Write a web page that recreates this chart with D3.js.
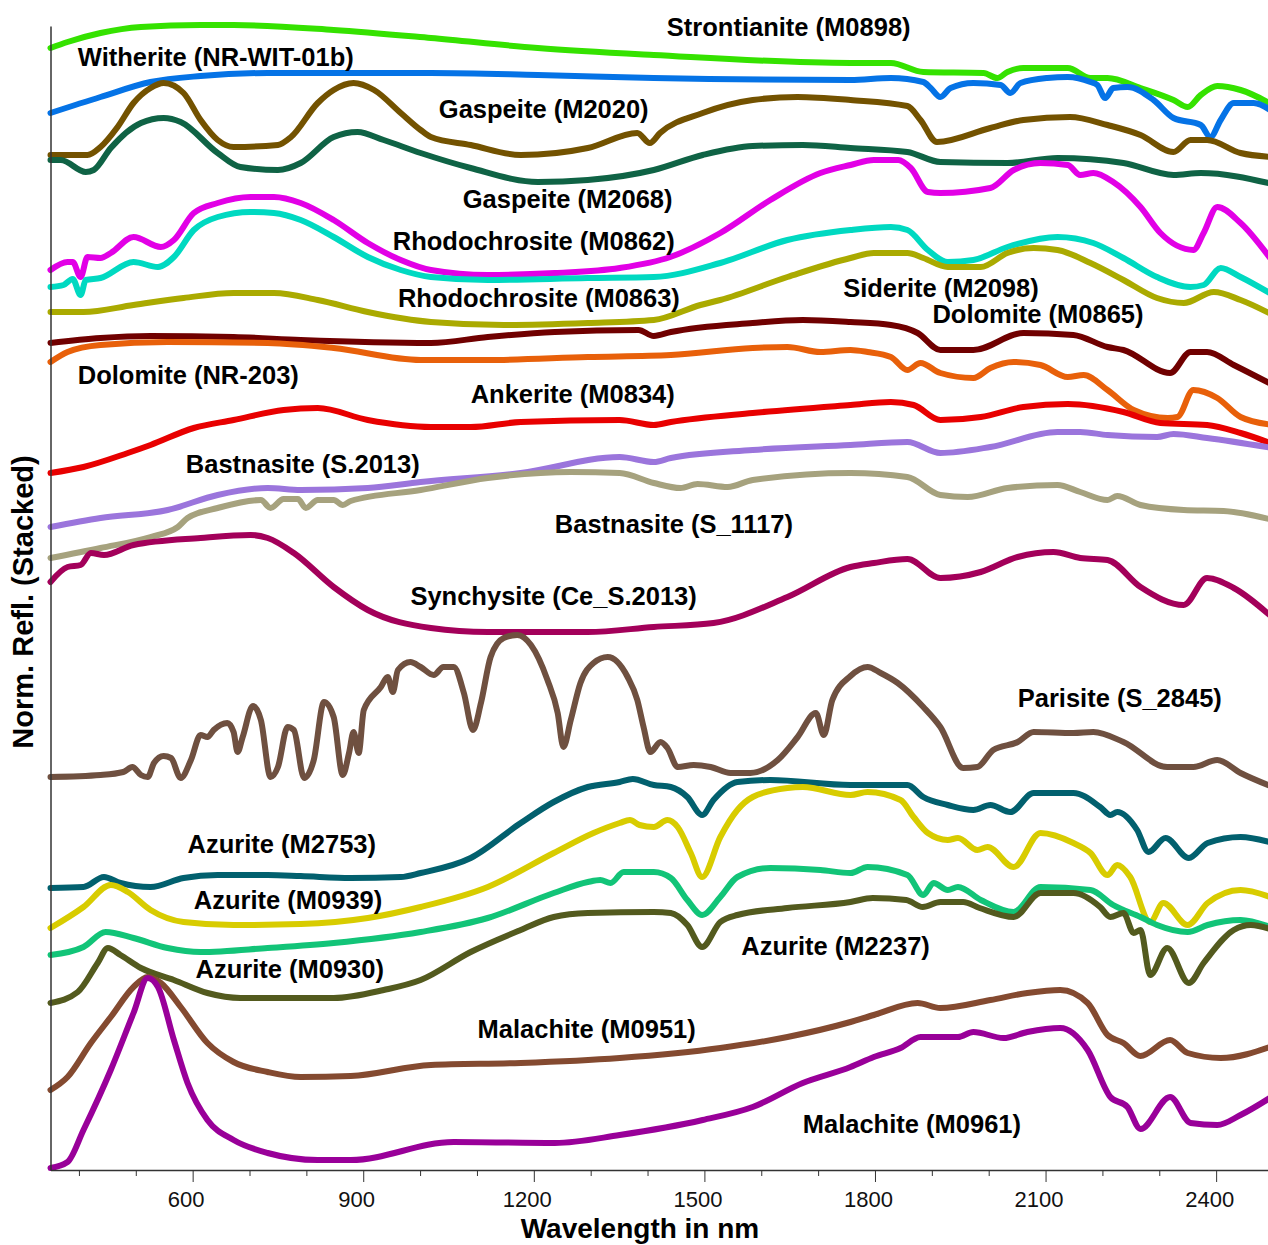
<!DOCTYPE html>
<html>
<head>
<meta charset="utf-8">
<script src="https://cdn.jsdelivr.net/npm/d3@7"></script>
<style>
  body { margin: 0; background: #fff; }
  svg text { font-family: "Liberation Sans", Arial, sans-serif; }
</style>
</head>
<body>
<div id="svg-container"></div>
<script>
// Spectra as [wavelength (nm), normalised reflectance, stacked]
const strontianite_M0898 = [[350,112.2],[380,112.8],[438,113.7],[509,114.3],[614,114.5],[672,114.5],[848,114],[1019,113.2],[1207,112.2],[1411,111.5],[1757,110.7],[1828,110.7],[1885,109.8],[1991,109.7],[2015,109.2],[2033,109.8],[2061,110.2],[2139,110.2],[2179,109.2],[2209,109.2],[2267,108.2],[2325,107],[2350,106.3],[2373,107.5],[2402,108.4],[2443,108],[2500,106.5]];
const witherite_NRWIT01b = [[350,105.7],[438,107.3],[526,108.8],[614,109.4],[732,109.7],[1019,109.7],[1207,109.5],[1411,109.2],[1757,109],[1828,109.2],[1885,108.8],[1898,108.2],[1915,107.3],[1933,108.2],[1973,108.7],[2021,108.5],[2038,107.7],[2056,108.7],[2103,109.2],[2139,109.3],[2179,108.8],[2191,108.5],[2205,107.2],[2219,108.2],[2244,108.3],[2290,107],[2325,105.2],[2373,104.5],[2390,103.3],[2408,105],[2431,106.7],[2466,106.7],[2500,105.8]];
const gaspeite_M2020 = [[350,101.5],[415,101.5],[438,102.3],[468,104.3],[496,106.7],[526,108.2],[549,108.7],[584,107.7],[614,105],[644,103],[672,102.3],[750,102.5],[773,103.3],[820,106.7],[848,108],[883,108.7],[919,108],[966,105.7],[1001,104],[1019,103.3],[1089,102.5],[1177,101.5],[1295,102.2],[1382,103.7],[1404,102.7],[1422,103.7],[1497,105.7],[1585,107],[1664,107.3],[1757,107],[1857,106.4],[1880,105],[1909,102.8],[2003,104.2],[2061,105],[2143,105.3],[2209,104.5],[2267,103.5],[2325,101.8],[2355,103],[2384,103],[2443,101.7],[2500,101.3]];
const gaspeite_M2068 = [[350,101],[368,101],[412,99.8],[426,100],[456,102.2],[509,104.7],[549,105.2],[579,104.8],[644,101.7],[684,100.3],[750,100],[790,100.7],[848,103.3],[890,103.8],[936,103],[1001,101.7],[1089,100.2],[1207,98.8],[1295,99],[1411,100],[1497,101.5],[1585,102.4],[1673,102.5],[1757,102.2],[1857,101.8],[1915,100.8],[2033,100.7],[2121,101.2],[2237,100.7],[2325,99.5],[2373,99.7],[2500,98.6]];
const rhodochrosite_M0862 = [[350,90],[380,90.8],[389,90.8],[403,89.3],[415,91.3],[438,91.2],[456,91.7],[496,93.3],[544,92.3],[567,93],[602,95.7],[644,96.7],[702,97.3],[743,97.3],[790,96.7],[848,95],[908,92.7],[966,91],[1019,90],[1119,89.5],[1237,89.7],[1351,90.2],[1440,91.3],[1528,93.7],[1616,97],[1704,99.7],[1757,100.5],[1798,101],[1841,101],[1863,100.2],[1893,97.8],[1915,97.7],[2003,98.2],[2044,100],[2091,100.7],[2139,100.5],[2161,99.5],[2184,99.7],[2219,98.8],[2267,96.3],[2302,93.7],[2360,92],[2378,93.7],[2402,96.3],[2443,94.7],[2500,90.8]];
const rhodochrosite_M0863 = [[350,88.3],[373,88.5],[389,89.1],[403,87.5],[412,89],[438,89.2],[496,90.8],[539,90.3],[567,91.3],[602,94],[644,95.3],[702,95.8],[743,95.7],[790,95],[848,93.3],[908,91.3],[966,90],[1019,89.3],[1119,89],[1295,89.2],[1411,89.3],[1528,90.7],[1646,93],[1757,94],[1828,94.3],[1857,94],[1893,92],[1928,90.8],[1973,91],[2033,92.3],[2121,93.3],[2184,92.7],[2237,91.2],[2296,89.3],[2355,88.3],[2378,88.5],[2408,90.2],[2443,89.3],[2500,87.5]];
const siderite_M2098 = [[350,85.8],[408,85.8],[496,86.5],[584,87.2],[672,87.7],[743,87.7],[820,87],[908,85.8],[1019,84.8],[1147,84.5],[1295,84.7],[1411,85],[1493,86.5],[1528,87],[1646,89.3],[1757,91.2],[1798,91.7],[1857,91.7],[1885,91.2],[1928,90.3],[1986,90.3],[2033,91.7],[2079,92.2],[2121,92],[2179,90.7],[2237,89],[2296,87.2],[2343,86.7],[2396,87.8],[2443,87],[2500,85.5]];
const dolomite_M0865 = [[350,82.7],[438,83.2],[526,83.4],[672,83.3],[790,83],[1019,82.7],[1119,83.3],[1237,83.8],[1384,84],[1411,83.4],[1441,83.8],[1585,84.7],[1673,85],[1757,84.8],[1828,84.5],[1875,83.7],[1915,82],[1973,82],[2061,83.7],[2149,83.5],[2209,82.3],[2237,82],[2319,79.7],[2355,81.8],[2384,81.8],[2431,80.5],[2500,78.5]];
const dolomite_NR203 = [[350,80.8],[380,81.8],[438,82.5],[556,82.8],[732,82.7],[848,82.2],[1001,81],[1119,81],[1295,81.3],[1441,81.5],[1585,82.2],[1646,82.3],[1704,81.8],[1757,82],[1787,81.8],[1828,81.3],[1857,80],[1880,80.7],[1915,79.7],[1973,79.2],[2003,80.2],[2044,80.8],[2091,80.5],[2139,79.3],[2167,79.5],[2209,78],[2255,76],[2315,75.2],[2332,75.3],[2360,78],[2402,77.2],[2443,75.3],[2500,74.5]];
const ankerite_M0834 = [[350,69.7],[408,70.3],[486,71.7],[526,72.5],[602,74.2],[672,75],[760,76],[820,76.2],[908,75],[1019,74.3],[1089,74.3],[1177,74.8],[1351,75],[1411,74.5],[1441,74.8],[1585,75.7],[1757,76.5],[1828,76.8],[1868,76.5],[1915,75],[1986,75.3],[2061,76.3],[2139,76.6],[2237,75.8],[2302,74.7],[2384,74.5],[2443,73.7],[2500,72.6]];
const bastnasite_S2013 = [[350,64.3],[438,65.2],[556,66],[644,67.5],[732,68.2],[790,68],[908,68.2],[1001,68.8],[1177,69.7],[1351,71.3],[1411,70.8],[1441,71.2],[1585,72],[1757,72.5],[1857,72.8],[1915,71.7],[2003,72.3],[2121,73.8],[2161,73.8],[2209,73.5],[2296,73.3],[2325,73.6],[2384,73.2],[2500,72.2]];
const bastnasite_S1117 = [[350,61.2],[438,62.2],[526,63.3],[574,64.3],[591,65.2],[644,66.2],[720,67],[737,66.2],[760,67.1],[785,67.1],[799,66.2],[820,67],[848,67],[864,66.5],[878,66.9],[1001,68],[1119,69.2],[1265,69.8],[1351,69.7],[1411,68.7],[1458,68.2],[1488,68.6],[1541,68.3],[1585,69],[1757,69.7],[1857,69.3],[1915,67.5],[1963,67.3],[2033,68.2],[2121,68.5],[2161,67.8],[2209,67],[2226,67.4],[2267,66.5],[2343,66],[2413,65.9],[2500,65]];
const synchysite_CeS2013 = [[350,58.8],[380,60.3],[403,60.5],[421,61.7],[444,61.5],[496,62.5],[614,63.2],[702,63.5],[732,63.2],[778,61.7],[848,58.3],[908,56],[1019,54.2],[1119,53.8],[1295,53.8],[1411,54.3],[1516,54.7],[1646,57.3],[1757,60.3],[1798,60.7],[1857,61.1],[1915,59.2],[1986,59.8],[2051,61.3],[2114,61.8],[2161,61.2],[2209,61],[2267,58.3],[2343,56.5],[2384,59.2],[2431,58.2],[2500,55.2]];
const parisite_S2845 = [[350,39.3],[438,39.5],[478,39.8],[494,40.3],[509,39.5],[521,39.3],[532,40.7],[549,41.4],[562,41.2],[579,39.2],[597,41],[614,43.5],[626,43.3],[637,44],[661,44.7],[672,43.8],[679,41.8],[688,43.3],[706,46.4],[720,45],[737,39.3],[750,40.3],[767,44.3],[778,44],[796,39.2],[813,41],[831,46.8],[848,45.3],[864,39.5],[875,41.7],[883,43.8],[892,41.7],[901,46],[931,48.3],[943,49.3],[952,47.8],[961,50],[983,50.8],[1001,50.3],[1024,49.5],[1041,50.3],[1059,50.3],[1077,47.7],[1093,44],[1107,46.7],[1124,51.3],[1147,53.2],[1171,53.5],[1195,52.5],[1224,49],[1242,45.7],[1252,42.3],[1265,45],[1282,48.7],[1305,50.7],[1330,51.3],[1365,49.3],[1382,47],[1393,44.3],[1405,41.8],[1423,42.8],[1435,42.2],[1453,40.3],[1481,40.5],[1511,40.3],[1546,39.7],[1581,39.7],[1629,41],[1664,43.3],[1696,45.7],[1710,43.5],[1725,47],[1757,49.4],[1787,50.3],[1810,49.7],[1840,48.7],[1885,46.3],[1915,44.3],[1955,40.2],[1980,40.3],[2008,42],[2051,42.8],[2079,43.8],[2149,43.7],[2184,43.8],[2237,42.8],[2314,40.3],[2360,40.3],[2402,41],[2443,39.7],[2500,38.3]];
const azurite_M2753 = [[350,28.2],[408,28.3],[444,29.3],[473,28.7],[526,28.3],[584,29.2],[644,29.5],[732,29.5],[790,29.4],[878,29.2],[966,29.3],[1001,29.7],[1089,31.2],[1177,34.7],[1235,36.8],[1295,38.3],[1351,38.8],[1374,39.1],[1411,38.5],[1441,38.3],[1470,37.3],[1496,35.5],[1516,37],[1558,38.8],[1616,39],[1757,38.5],[1857,38.5],[1885,37.3],[1928,36.5],[1973,36],[2003,36.5],[2038,35.8],[2079,37.7],[2149,37.7],[2196,36.3],[2214,35.5],[2226,35.8],[2261,34],[2281,31.8],[2311,33.2],[2352,31.2],[2385,32.7],[2443,33.3],[2500,32.7]];
const azurite_M0939 = [[350,24.2],[408,26.3],[456,28.5],[486,27.8],[526,26],[584,24.8],[672,24.5],[790,24.6],[908,25.2],[1001,26.3],[1119,28.3],[1235,31.7],[1305,33.7],[1351,34.7],[1369,35],[1386,34.5],[1411,34.3],[1435,35],[1453,34.3],[1476,31.7],[1496,29.3],[1528,33.3],[1558,36],[1585,37.3],[1646,38.2],[1673,38.3],[1757,37.5],[1787,37.8],[1845,37],[1868,35.3],[1893,33.7],[1928,33],[1946,33.2],[1980,32],[1998,32.3],[2044,30.3],[2091,33.7],[2149,32.7],[2179,31.7],[2209,29.5],[2226,30.5],[2249,29.3],[2284,24.8],[2307,26.7],[2350,24.5],[2385,26.7],[2443,28],[2500,27.2]];
const azurite_M2237 = [[350,21.5],[408,22.3],[447,23.8],[496,23.2],[556,22.2],[614,21.8],[732,22.2],[848,22.7],[1001,23.8],[1119,25.2],[1235,27.7],[1295,28.8],[1317,29],[1335,28.7],[1358,29.8],[1411,29.8],[1441,29.2],[1470,27],[1496,25.5],[1528,27.3],[1558,29.3],[1616,30.2],[1704,30],[1757,29.7],[1787,30.3],[1857,29.5],[1885,27.5],[1903,28.7],[1928,28],[1946,28.3],[1986,27],[2044,25.8],[2091,28.3],[2179,28],[2219,26.5],[2267,25.3],[2296,24.5],[2350,23.8],[2385,24.5],[2443,25],[2500,24.2]];
const azurite_M0930 = [[350,16.7],[398,17.8],[433,20.7],[451,22.2],[473,21.5],[509,20.2],[567,19],[626,17.7],[684,17.2],[848,17.2],[936,18],[1001,19],[1089,21.8],[1177,24],[1235,25.3],[1295,25.7],[1411,25.8],[1441,25.7],[1470,24.5],[1496,22.3],[1528,24.8],[1558,25.5],[1646,26.2],[1757,26.8],[1796,27.2],[1855,27],[1884,26.3],[1915,26.8],[1955,26.8],[1984,26.2],[2044,25.3],[2091,27.7],[2149,27.7],[2196,26.3],[2214,25.3],[2237,25.7],[2255,23.7],[2267,24],[2284,19.5],[2314,22.2],[2352,18.7],[2378,20.7],[2431,24],[2461,24.5],[2500,24]];
const malachite_M0951 = [[350,8],[380,9.3],[421,12.7],[456,15.3],[496,18.3],[521,19.3],[544,18.7],[579,16.3],[626,12.7],[672,10.8],[732,9.8],[790,9.3],[878,9.4],[1019,10.5],[1177,10.7],[1351,11.2],[1528,12.2],[1646,13.3],[1757,14.8],[1798,15.5],[1875,16.7],[1915,16.2],[2003,17],[2068,17.7],[2126,18],[2174,16.7],[2209,13.5],[2237,12.7],[2267,11.4],[2319,13],[2350,11.7],[2408,11.2],[2500,12.4]];
const malachite_M0961 = [[350,0.2],[380,0.8],[408,4],[456,10],[496,15.7],[521,19.2],[539,18.3],[567,13],[591,8.7],[626,5],[672,3],[732,1.7],[820,1],[878,1],[1059,2.8],[1237,2.7],[1351,3.5],[1497,5],[1585,6.3],[1673,8.7],[1757,10.3],[1798,11.3],[1845,12.2],[1880,13.3],[1946,13.3],[1973,13.8],[2026,13.2],[2068,13.8],[2126,14.2],[2174,12],[2214,7.3],[2244,6.3],[2267,4.1],[2319,7.3],[2355,4.7],[2402,4.5],[2443,5.5],[2500,7.4]];

const spectra = [strontianite_M0898, witherite_NRWIT01b, gaspeite_M2020, gaspeite_M2068,
  rhodochrosite_M0862, rhodochrosite_M0863, siderite_M2098, dolomite_M0865, dolomite_NR203,
  ankerite_M0834, bastnasite_S2013, bastnasite_S1117, synchysite_CeS2013, parisite_S2845,
  azurite_M2753, azurite_M0939, azurite_M2237, azurite_M0930, malachite_M0951, malachite_M0961];

const names = ["Strontianite (M0898)", "Witherite (NR-WIT-01b)", "Gaspeite (M2020)", "Gaspeite (M2068)",
  "Rhodochrosite (M0862)", "Rhodochrosite (M0863)", "Siderite (M2098)", "Dolomite (M0865)", "Dolomite (NR-203)",
  "Ankerite (M0834)", "Bastnasite (S.2013)", "Bastnasite (S_1117)", "Synchysite (Ce_S.2013)", "Parisite (S_2845)",
  "Azurite (M2753)", "Azurite (M0939)", "Azurite (M2237)", "Azurite (M0930)", "Malachite (M0951)", "Malachite (M0961)"];

// where each name sits (left edge wavelength, baseline reflectance)
const labelWavelength = [1434, 398, 1033, 1075, 952, 961, 1744, 1901, 398, 1089, 588, 1237, 983, 2051, 591, 602, 1565, 605, 1101, 1673];
const labelReflectance = [113.4, 110.4, 105.2, 96.2, 92, 86.3, 87.3, 84.7, 78.6, 76.7, 69.7, 63.7, 56.5, 46.3, 31.7, 26.1, 21.5, 19.2, 13.2, 3.7];

const majorTicks = [600, 900, 1200, 1500, 1800, 2100, 2400];
const minorTicks = [400, 500, 700, 800, 1000, 1100, 1300, 1400, 1600, 1700, 1900, 2000, 2200, 2300];

const colors = ["#35e200", "#0573e6", "#735200", "#0f6345", "#e200e6", "#00d9c1", "#aaaa00", "#700000", "#e8600a",
  "#e80000", "#9b75dc", "#a6a27e", "#a3005a", "#6f5040", "#02606e", "#d8cc00", "#12c478", "#535a1e", "#844a30", "#990099"];

const width = 1268;
const height = 1245;
const margins = { top: 26, right: -5, bottom: 75, left: 50.5 };
const innerWidth = width - margins.left - margins.right;
const innerHeight = height - margins.top - margins.bottom;

const xScale = d3.scaleLinear().domain([350, 2500]).range([0, innerWidth]);
const yScale = d3.scaleLinear().domain([0, 114.4]).range([innerHeight, 0]);

const svg = d3.select("#svg-container")
  .append("svg")
    .attr("width", width)
    .attr("height", height)
    .style("display", "block");

const mainG = svg.append("g")
  .attr("transform", `translate(${margins.left}, ${margins.top})`);

// lines
const line = d3.line()
  .x(d => xScale(d[0]))
  .y(d => yScale(d[1]))
  .curve(d3.curveMonotoneX);

mainG.selectAll("path.spectrum")
  .data(spectra)
  .enter()
  .append("path")
    .attr("class", "spectrum")
    .attr("d", d => line(d))
    .attr("fill", "none")
    .attr("stroke", (d, i) => colors[i])
    .attr("stroke-width", 6)
    .attr("stroke-linejoin", "round")
    .attr("stroke-linecap", "round");

// curve names
mainG.selectAll("text.name")
  .data(names)
  .enter()
  .append("text")
    .attr("class", "name")
    .attr("x", (d, i) => xScale(labelWavelength[i]))
    .attr("y", (d, i) => yScale(labelReflectance[i]))
    .style("font-size", "25.5px")
    .style("font-weight", "bold")
    .style("fill", "#000")
    .text(d => d);

// x axis: minor then major ticks
const minorAxis = mainG.append("g")
  .attr("transform", `translate(0, ${innerHeight})`)
  .style("color", "#333")
  .call(d3.axisBottom(xScale).tickValues(minorTicks).tickSize(6).tickSizeOuter(0));
minorAxis.selectAll(".tick text").remove();
minorAxis.select(".domain").attr("stroke-width", 1.5);

const majorAxis = mainG.append("g")
  .attr("transform", `translate(0, ${innerHeight})`)
  .style("color", "#333")
  .call(d3.axisBottom(xScale).tickValues(majorTicks).tickSize(12).tickSizeOuter(0).tickFormat(d3.format("d")));
majorAxis.select(".domain").remove();
majorAxis.selectAll("text")
  .attr("y", 21)
  .attr("dx", -7)
  .style("font-size", "22px")
  .style("font-family", "'Liberation Sans', Arial, sans-serif")
  .style("fill", "#111");

// y axis line only
const yAxis = mainG.append("g")
  .style("color", "#333")
  .call(d3.axisLeft(yScale).tickValues([]).tickSizeOuter(0));
yAxis.select(".domain").attr("stroke-width", 1.5);

// titles
svg.append("text")
  .attr("x", 640)
  .attr("y", 1238)
  .attr("text-anchor", "middle")
  .style("font-size", "28px")
  .style("font-weight", "bold")
  .text("Wavelength in nm");

svg.append("text")
  .attr("transform", "translate(33, 602) rotate(-90)")
  .attr("text-anchor", "middle")
  .style("font-size", "29px")
  .style("font-weight", "bold")
  .text("Norm. Refl. (Stacked)");
</script>
</body>
</html>
